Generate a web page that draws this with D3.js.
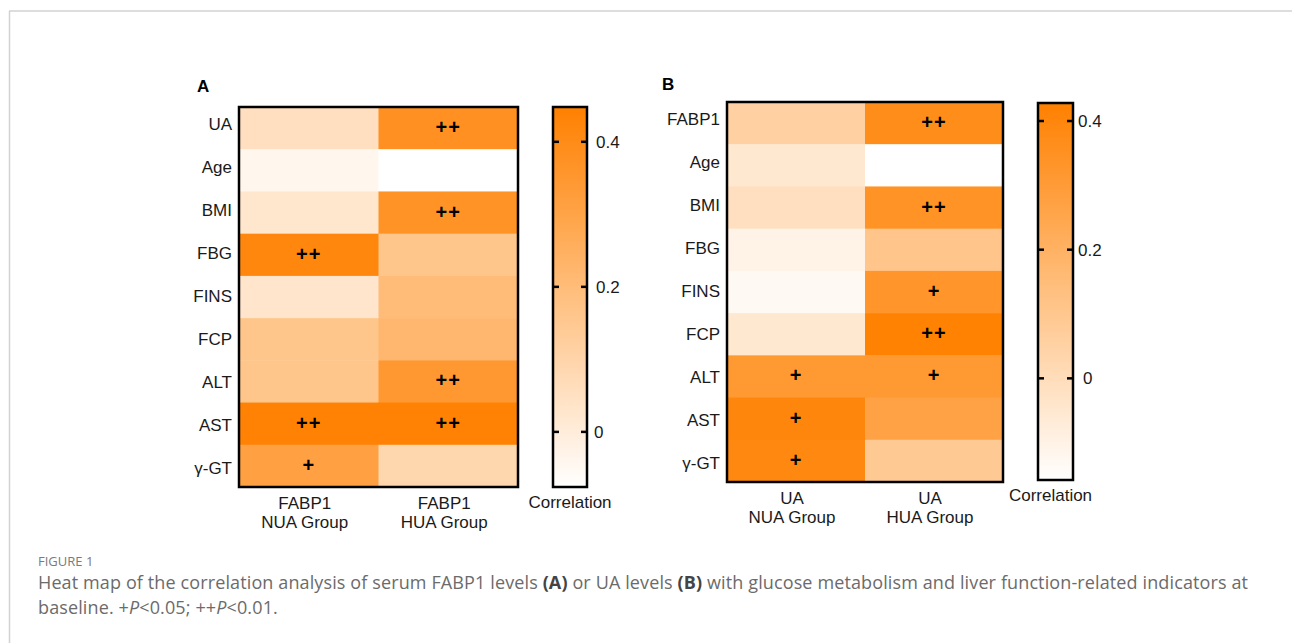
<!DOCTYPE html>
<html><head><meta charset="utf-8">
<script src="https://cdn.jsdelivr.net/npm/d3@7"></script>
<style>
html,body{margin:0;padding:0;background:#fff;}
svg{display:block;}
</style></head>
<body>
<svg id="chart" width="1292" height="643"></svg>
<script>
// ---------- data ----------
const rowsA = ["UA","Age","BMI","FBG","FINS","FCP","ALT","AST","γ-GT"];
const colsA = [["FABP1","NUA Group"],["FABP1","HUA Group"]];
const valsA_NUA = [0.055,-0.04,0.025,0.42,0.03,0.16,0.16,0.44,0.31];
const valsA_HUA = [0.38,-0.08,0.37,0.16,0.20,0.22,0.35,0.44,0.09];
const sigA_NUA = ["","","","++","","","","++","+"];
const sigA_HUA = ["++","","++","","","","++","++",""];
const ticksA = [0,0.2,0.4];
const rangeA = [-0.076,0.448];

const rowsB = ["FABP1","Age","BMI","FBG","FINS","FCP","ALT","AST","γ-GT"];
const colsB = [["UA","NUA Group"],["UA","HUA Group"]];
const valsB_NUA = [0.055,-0.05,-0.01,-0.10,-0.13,-0.05,0.31,0.40,0.39];
const valsB_HUA = [0.37,-0.16,0.34,0.11,0.33,0.42,0.31,0.27,0.09];
const sigB_NUA = ["","","","","","","+","+","+"];
const sigB_HUA = ["++","","++","","+","++","+","",""];
const ticksB = [0,0.2,0.4];
const rangeB = [-0.158,0.428];

const legendTitle = "Correlation";
// ---------------------------

const svg = d3.select("#chart");
const FONT = "'Liberation Sans', Arial, sans-serif";

// page frame
svg.append("line").attr("x1",9).attr("x2",1292).attr("y1",11).attr("y2",11).attr("stroke","#d2d2d2").attr("stroke-width",1.5);
svg.append("line").attr("x1",9.5).attr("x2",9.5).attr("y1",11).attr("y2",643).attr("stroke","#d2d2d2").attr("stroke-width",1.5);

function panel(opt){
  const g = svg.append("g");
  const color = d3.scaleLinear().domain(opt.range).range(["#ffffff","#ff8000"]).interpolate(d3.interpolateRgb).clamp(true);
  const x = d3.scaleBand().domain(d3.range(opt.cols.length)).range([opt.x0,opt.x1]);
  const y = d3.scaleBand().domain(opt.rows).range([opt.y0,opt.y1]);
  const cells = [];
  opt.rows.forEach((r,i)=>{
    cells.push({r, c:0, v:opt.v0[i], s:opt.s0[i]});
    cells.push({r, c:1, v:opt.v1[i], s:opt.s1[i]});
  });
  g.selectAll("rect.cell").data(cells).enter().append("rect")
    .attr("x",d=>x(d.c)).attr("y",d=>y(d.r))
    .attr("width",x.bandwidth()+0.5).attr("height",y.bandwidth()+0.5)
    .attr("fill",d=>color(d.v));
  g.selectAll("text.sig").data(cells.filter(d=>d.s)).enter().append("text")
    .attr("x",d=>x(d.c)+x.bandwidth()/2).attr("y",d=>y(d.r)+y.bandwidth()/2+6)
    .attr("text-anchor","middle").attr("font-family",FONT).attr("font-size",20).attr("font-weight","bold")
    .attr("letter-spacing",1).attr("fill","#000").text(d=>d.s);
  g.append("rect").attr("x",opt.x0).attr("y",opt.y0).attr("width",opt.x1-opt.x0).attr("height",opt.y1-opt.y0)
    .attr("fill","none").attr("stroke","#000").attr("stroke-width",2.5);
  // row labels
  g.selectAll("text.row").data(opt.rows).enter().append("text")
    .attr("x",opt.x0-7).attr("y",(d,i)=>y(d)+y.bandwidth()/2+6 + (i-4)*0.9 - 1)
    .attr("text-anchor","end").attr("font-family",FONT).attr("font-size",17).attr("fill","#1a1a1a").text(d=>d);
  // column labels
  opt.cols.forEach((c,i)=>{
    const t = g.append("text").attr("text-anchor","middle").attr("font-family",FONT).attr("font-size",17).attr("fill","#1a1a1a");
    c.forEach((line,j)=>{
      t.append("tspan").attr("x",x(i)+x.bandwidth()/2-4).attr("y",opt.y1+22+j*19).text(line);
    });
  });
  // panel letter
  g.append("text").attr("x",opt.letterX).attr("y",opt.letterY).attr("font-family",FONT).attr("font-size",17)
    .attr("font-weight","bold").attr("fill","#000").text(opt.letter);

  // colorbar
  const cy = d3.scaleLinear().domain(opt.range).range([opt.cb.y1,opt.cb.y0]);
  const gid = "grad"+opt.letter;
  const grad = svg.append("defs").append("linearGradient").attr("id",gid)
    .attr("x1",0).attr("x2",0).attr("y1",1).attr("y2",0);
  d3.range(0,1.0001,0.1).forEach(t=>{
    const v = opt.range[0]+t*(opt.range[1]-opt.range[0]);
    grad.append("stop").attr("offset",t).attr("stop-color",color(v));
  });
  g.append("rect").attr("x",opt.cb.x0).attr("y",opt.cb.y0).attr("width",opt.cb.x1-opt.cb.x0).attr("height",opt.cb.y1-opt.cb.y0)
    .attr("fill","url(#"+gid+")").attr("stroke","#000").attr("stroke-width",2.5);
  const tk = g.selectAll("g.tick").data(opt.ticks).enter().append("g");
  tk.append("line").attr("x1",opt.cb.x0).attr("x2",opt.cb.x0+6).attr("y1",d=>cy(d)).attr("y2",d=>cy(d)).attr("stroke","#000").attr("stroke-width",2.5);
  tk.append("line").attr("x1",opt.cb.x1-6).attr("x2",opt.cb.x1).attr("y1",d=>cy(d)).attr("y2",d=>cy(d)).attr("stroke","#000").attr("stroke-width",2.5);
  tk.append("text").attr("x",d=>d===0?opt.cb.x1+opt.lblOff+opt.zeroDx:opt.cb.x1+opt.lblOff).attr("y",d=>cy(d)+6)
    .attr("font-family",FONT).attr("font-size",17).attr("fill","#1a1a1a").text(d=>d3.format("")(d));
  g.append("text").attr("x",(opt.cb.x0+opt.cb.x1)/2+opt.titleDx).attr("y",opt.cb.y1+21).attr("text-anchor","middle")
    .attr("font-family",FONT).attr("font-size",17).attr("fill","#1a1a1a").text(legendTitle);
}

panel({letter:"A", letterX:197, letterY:92, rows:rowsA, cols:colsA, v0:valsA_NUA, v1:valsA_HUA, s0:sigA_NUA, s1:sigA_HUA,
  x0:239, x1:518, y0:107, y1:487, range:rangeA, ticks:ticksA, cb:{x0:553,x1:587,y0:107,y1:487}, lblOff:9, zeroDx:-2, titleDx:0});
panel({letter:"B", letterX:662, letterY:90, rows:rowsB, cols:colsB, v0:valsB_NUA, v1:valsB_HUA, s0:sigB_NUA, s1:sigB_HUA,
  x0:727, x1:1003, y0:102, y1:482, range:rangeB, ticks:ticksB, cb:{x0:1038,x1:1073,y0:103,y1:480}, lblOff:5, zeroDx:5, titleDx:-5});

// caption
const CAP = "'Open Sans', 'Noto Sans', sans-serif";
svg.append("text").attr("x",38).attr("y",566).attr("font-family",CAP).attr("font-size",13).attr("fill","#7a7a7a").text("FIGURE 1");
const l1 = svg.append("text").attr("x",38).attr("y",589).attr("font-family",CAP).attr("font-size",18).attr("letter-spacing",0.12).attr("fill","#6b6b6b");
l1.append("tspan").text("Heat map of the correlation analysis of serum FABP1 levels ");
l1.append("tspan").attr("font-weight","bold").attr("fill","#444").text("(A)");
l1.append("tspan").text(" or UA levels ");
l1.append("tspan").attr("font-weight","bold").attr("fill","#444").text("(B)");
l1.append("tspan").text(" with glucose metabolism and liver function-related indicators at");
const l2 = svg.append("text").attr("x",38).attr("y",614).attr("font-family",CAP).attr("font-size",18).attr("letter-spacing",0.12).attr("fill","#6b6b6b");
l2.append("tspan").text("baseline. +");
l2.append("tspan").attr("font-style","italic").text("P");
l2.append("tspan").text("<0.05; ++");
l2.append("tspan").attr("font-style","italic").text("P");
l2.append("tspan").text("<0.01.");
</script>
</body></html>
